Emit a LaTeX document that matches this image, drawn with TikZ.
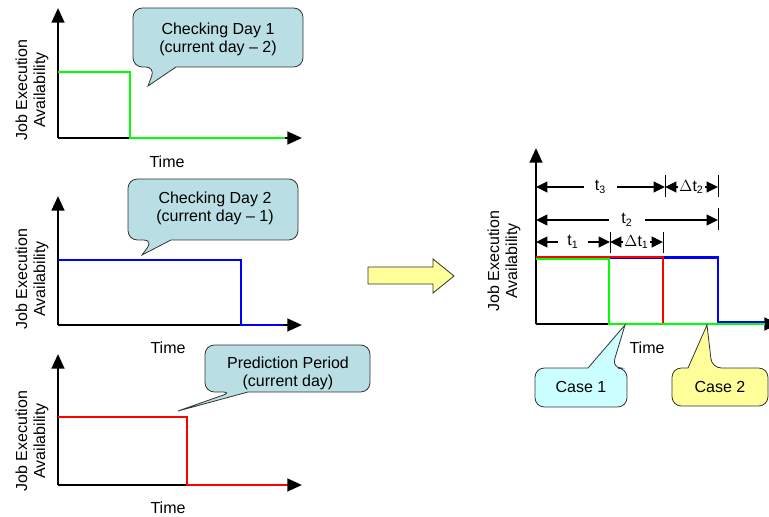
\documentclass[tikz,border=0pt]{standalone}
\usepackage{fontspec}
\setmainfont{Liberation Sans}
\usetikzlibrary{arrows.meta}
\definecolor{calloutblue}{RGB}{185,222,227}
\definecolor{caseone}{RGB}{204,255,255}
\definecolor{pale}{RGB}{255,255,153}
\definecolor{sgreen}{RGB}{0,255,0}
\definecolor{sblue}{RGB}{0,0,255}
\definecolor{sred}{RGB}{255,0,0}
\tikzset{
  axis/.style={line width=1.9pt, -{Triangle[length=11pt,width=9.5pt]}},
  signal/.style={line width=1.6pt},
  callout/.style={draw=black!80, line width=0.6pt},
  txt/.style={font=\fontsize{12}{13.5}\selectfont, align=center, inner sep=1pt},
  ylab/.style={txt, rotate=90},
  dim/.style={line width=1.6pt, {Triangle[length=8.5pt,width=8pt]}-{Triangle[length=8.5pt,width=8pt]}},
  dimlab/.style={txt, fill=white, inner sep=3pt},
  tick/.style={line width=0.6pt}
}
\begin{document}
\begin{tikzpicture}[x=0.75pt,y=-0.75pt]
\useasboundingbox (0,0) rectangle (769,517);

% ---------- day 1 ----------
\coordinate (o1) at (58,138);
\draw[axis] (o1) -- (58,8);
\draw[axis] (o1) -- (302,138);
\draw[signal, sgreen] (58,72) -- (130,72) -- (130,138) -- (285,138);
\node[ylab] (yl1) at (32,90) {Job Execution\\Availability};
\node[txt] (tm1) at (167,162) {Time};
\draw[callout, fill=calloutblue] (155,67) -- (148,86) -- (176,67)
  [rounded corners=7pt] -- (303,67) -- (303,8) -- (133,8) -- (133,67) -- cycle;
\node[txt] (c1) at (218,39) {Checking Day 1\\(current day -- 2)};

% ---------- day 2 ----------
\coordinate (o2) at (58,325);
\draw[axis] (o2) -- (58,196);
\draw[axis] (o2) -- (302,325);
\draw[signal, sblue] (58,260) -- (241,260) -- (241,325) -- (283,325);
\node[ylab] (yl2) at (32,279) {Job Execution\\Availability};
\node[txt] (tm2) at (168,348) {Time};
\draw[callout, fill=calloutblue] (153,240) -- (142,255) -- (171,240)
  [rounded corners=7pt] -- (298,240) -- (298,179) -- (128,179) -- (128,240) -- cycle;
\node[txt] (c2) at (215,208) {Checking Day 2\\(current day -- 1)};

% ---------- prediction ----------
\coordinate (o3) at (58,485);
\draw[axis] (o3) -- (58,354);
\draw[axis] (o3) -- (302,485);
\draw[signal, sred] (58,417) -- (187,417) -- (187,485) -- (287,485);
\node[ylab] (yl3) at (32,441) {Job Execution\\Availability};
\node[txt] (tm3) at (168,508) {Time};
\draw[callout, fill=calloutblue] (232,392) -- (178,411) -- (248,392)
  [rounded corners=7pt] -- (370,392) -- (370,345) -- (205,345) -- (205,392) -- cycle;
\node[txt] (c3) at (288,373) {Prediction Period\\(current day)};

% ---------- block arrow ----------
\draw[black!80, line width=0.6pt, fill=pale]
  (368,267) -- (433,267) -- (433,259) -- (454,276) -- (433,293) -- (433,284) -- (368,284) -- cycle;

% ---------- combined chart ----------
\coordinate (o4) at (536,324);
\draw[axis] (o4) -- (536,148);
\draw[axis] (o4) -- (779,324);
\draw[signal, sblue] (536,257.5) -- (718,257.5) -- (718,322.5) -- (765,322.5);
\draw[signal, sred] (536,257) -- (663,257) -- (663,324);
\draw[signal, sgreen] (536,259) -- (609,259) -- (609,324) -- (765,324);
\node[ylab] (yl4) at (504,261) {Job Execution\\Availability};
\node[txt] (tm4) at (647,348) {Time};

% interval markers
\coordinate (a3) at (536,187);
\coordinate (b3) at (665,187);
\coordinate (c3e) at (718,187);
\coordinate (a2) at (536,220);
\coordinate (b2) at (718,220);
\coordinate (a1) at (536,242);
\coordinate (b1) at (610,242);
\coordinate (c1e) at (663,242);
\draw[tick] (665,175) -- (665,197);
\draw[tick] (718,175) -- (718,197);
\draw[tick] (718,208) -- (718,230);
\draw[tick] (610,232) -- (610,253);
\draw[tick] (663,232) -- (663,253);
\draw[dim] (a3) -- node[dimlab, inner xsep=8pt] (lt3) {t\textsubscript{3}} (b3);
\draw[dim] (b3) -- node[dimlab, inner sep=1pt] (ldt2) {$\Delta$t\textsubscript{2}} (c3e);
\draw[dim] (a2) -- node[dimlab, inner xsep=9pt] (lt2) {t\textsubscript{2}} (b2);
\draw[dim] (a1) -- node[dimlab, inner xsep=7pt] (lt1) {t\textsubscript{1}} (b1);
\draw[dim] (b1) -- node[dimlab, inner sep=1pt] (ldt1) {$\Delta$t\textsubscript{1}} (c1e);

% case callouts
\draw[callout, fill=caseone] (612,368) -- (625,325) -- (588,368)
  [rounded corners=7pt] -- (535,368) -- (535,407) -- (627,407) -- (627,368) -- cycle;
\node[txt] (k1) at (581,387) {Case 1};
\draw[callout, fill=pale] (712,368) -- (707,325) -- (688,368)
  [rounded corners=7pt] -- (672,368) -- (672,406) -- (768,406) -- (768,368) -- cycle;
\node[txt] (k2) at (720,387) {Case 2};
\end{tikzpicture}
\end{document}
